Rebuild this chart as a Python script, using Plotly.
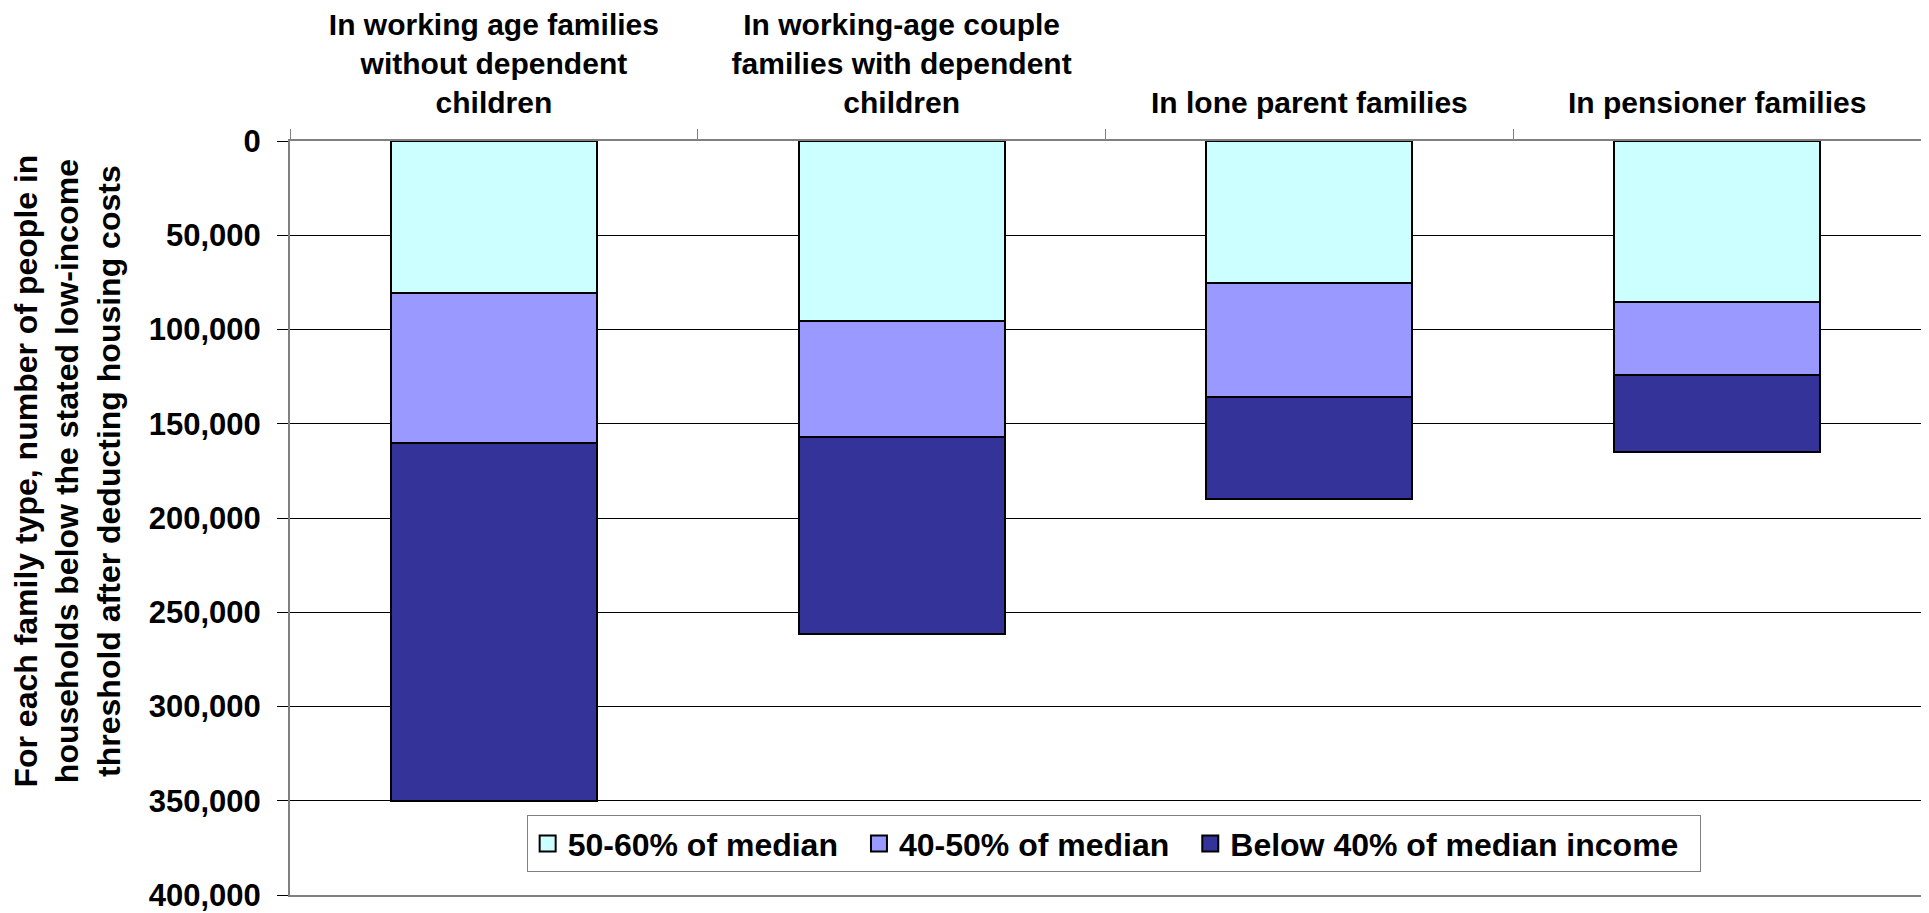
import plotly.graph_objects as go

categories = [
    "In working age families<br>without dependent<br>children",
    "In working-age couple<br>families with dependent<br>children",
    "In lone parent families",
    "In pensioner families",
]
series_names = ["50-60% of median", "40-50% of median", "Below 40% of median income"]
s_50_60 = [80500, 95500, 75500, 85500]
s_40_50 = [79500, 61500, 60500, 38500]
s_below_40 = [190000, 104500, 54000, 41000]
colors = ["#CCFFFF", "#9999FF", "#333399"]

y_ticks = [0, 50000, 100000, 150000, 200000, 250000, 300000, 350000, 400000]

FONT = "Liberation Sans, Arial, sans-serif"

fig = go.Figure()
for name, vals, col in zip(series_names, [s_50_60, s_40_50, s_below_40], colors):
    fig.add_trace(go.Bar(
        x=categories, y=vals, name=name, width=0.505, showlegend=False,
        legendgroup=name,
        marker=dict(color=col, line=dict(color="black", width=2)),
    ))
# legend-only entries with larger square swatches
for name, col in zip(series_names, colors):
    fig.add_trace(go.Scatter(
        x=[None], y=[None], mode="markers", name=name + "\u2002", legendgroup=name,
        marker=dict(symbol="square", size=17, color=col, line=dict(color="black", width=2)),
    ))

fig.update_layout(
    width=1913, height=905,
    barmode="stack",
    paper_bgcolor="white", plot_bgcolor="white",
    margin=dict(l=282, r=0, t=131, b=14),
    font=dict(family=FONT, size=30, color="black", weight="bold"),
    showlegend=True,
    legend=dict(
        orientation="h", x=0.505, y=0.068, xanchor="center", yanchor="middle",
        bgcolor="white", bordercolor="#808080", borderwidth=1,
        font=dict(family=FONT, size=32, color="black", weight="bold"),
        itemwidth=30, traceorder="normal",
    ),
    xaxis=dict(
        side="top", type="category",
        showline=True, linecolor="#808080", linewidth=2, mirror=True,
        ticks="outside", tickson="boundaries", ticklen=10, tickcolor="#808080",
        ticklabelstandoff=14,
        tickfont=dict(family=FONT, size=30, color="black", weight="bold"),
        showgrid=False,
    ),
    yaxis=dict(
        range=[400000, 0], tickvals=y_ticks, tickformat=",d",
        showline=True, linecolor="#808080", linewidth=2,
        ticks="outside", ticklen=11, tickcolor="black",
        ticklabelstandoff=10, ticklabeloverflow="allow",
        showgrid=True, gridcolor="black", gridwidth=1,
        zeroline=False,
        tickfont=dict(family=FONT, size=31, color="black", weight="bold"),
    ),
    annotations=[dict(
        text="For each family type, number of people in<br>households below the stated low-income<br>threshold after deducting housing costs",
        xref="paper", yref="paper", x=-0.1366, y=0.5618,
        xanchor="center", yanchor="middle", textangle=-90, showarrow=False,
        font=dict(family=FONT, size=32, color="black", weight="bold"),
    )],
)

fig.write_html("out.html")
